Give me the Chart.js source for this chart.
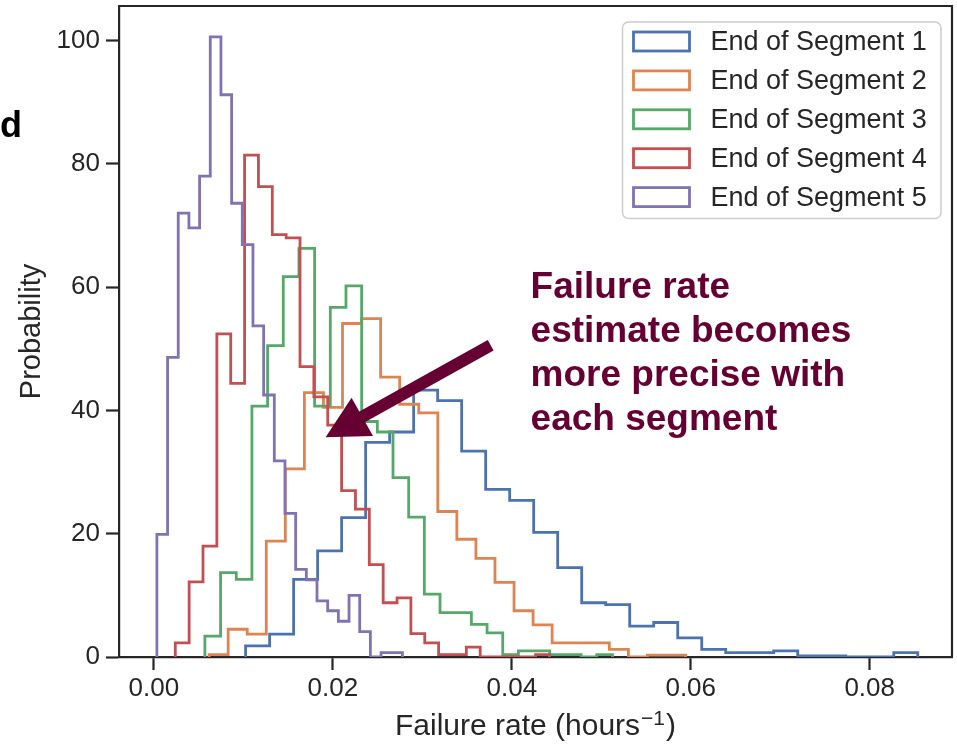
<!DOCTYPE html>
<html>
<head>
<meta charset="utf-8">
<script src="https://cdn.jsdelivr.net/npm/chart.js@4.4.1/dist/chart.umd.min.js"></script>
<style>
  html, body { margin: 0; padding: 0; background: #fff; }
  #wrap { width: 957px; height: 745px; }
</style>
</head>
<body>
<div id="wrap"><canvas id="histChart" width="957" height="745"></canvas></div>
<script>
const segmentNames = ["End of Segment 1", "End of Segment 2", "End of Segment 3", "End of Segment 4", "End of Segment 5"];
const segmentColors = ["#4c72b0", "#dd8452", "#55a868", "#c44e52", "#8172b3"];

// histogram bins: first edge and bin width (failure rate), then height per bin
const seg1Start = 0.01025, seg1Width = 0.002683;
const seg1Counts = [1.8, 3.7, 12.6, 17.2, 22.6, 34.8, 36.5, 43.3, 41.6, 33.4, 27.2, 25.4, 20.2, 14.5,
  8.8, 8.5, 5.0, 5.6, 3.1, 1.25, 0.7, 0.7, 1.0, 0.16, 0.16, 0, 0, 0.7];
const seg2Start = 0.00617, seg2Width = 0.00213;
const seg2Counts = [0.4, 4.5, 3.7, 18.8, 30.5, 42.9, 40.5, 54.1, 54.9, 45.4, 41.0, 39.6, 23.6, 19.1,
  16.0, 12.1, 7.5, 5.2, 2.3, 2.3, 2.3, 1.25, 0, 0.3, 0.3];
const seg3Start = 0.0057, seg3Width = 0.001752;
const seg3Counts = [3.4, 13.7, 12.6, 40.7, 50.5, 61.7, 66.3, 40.7, 56.7, 60.2, 38.2, 36.5, 29.1, 22.7,
  10.2, 7.2, 7.2, 5.3, 3.9, 0.4, 1.0, 1.0, 0.4, 0.4, 0, 0.4];
const seg4Start = 0.00239, seg4Width = 0.001549;
const seg4Counts = [2.3, 12.2, 18.0, 52.4, 44.4, 81.4, 76.3, 68.5, 68.0, 47.1, 42.2, 37.6, 27.0, 24.0,
  15.0, 8.8, 9.6, 3.8, 2.3, 0.4, 0.4, 1.6, 0, 0, 0, 0, 0.4];
const seg5Start = 0.000335, seg5Width = 0.001193;
const seg5Counts = [19.9, 48.6, 72.0, 69.6, 78.0, 100.6, 91.2, 73.6, 66.9, 53.7, 42.5, 31.8, 23.3, 14.2,
  12.5, 9.1, 7.5, 5.8, 10.0, 4.1, 0, 0.7, 0.7];

const xTicks = [0, 0.02, 0.04, 0.06, 0.08];
const yTicks = [0, 20, 40, 60, 80, 100];

const noteLines = ["Failure rate", "estimate becomes", "more precise with", "each segment"];
const noteAt = [0.0421, 58.3];        // first line baseline, data units
const arrowTail = [0.03764, 50.56];
const arrowHead = [0.01919, 35.64];

const FONT = '"Liberation Sans", Arial, Helvetica, sans-serif';
const INK = "#262626";
const MAROON = "#660033";

// outline of a step histogram: up at the first edge, across each bin, down at the last edge
function stepPoints(start, width, counts) {
  const pts = [{ x: start, y: 0 }];
  counts.forEach((c, i) => pts.push({ x: start + i * width, y: c }));
  pts.push({ x: start + counts.length * width, y: 0 });
  return pts;
}

const bins = [
  [seg1Start, seg1Width, seg1Counts],
  [seg2Start, seg2Width, seg2Counts],
  [seg3Start, seg3Width, seg3Counts],
  [seg4Start, seg4Width, seg4Counts],
  [seg5Start, seg5Width, seg5Counts]
];

const datasets = bins.map((b, i) => ({
  label: segmentNames[i],
  data: stepPoints(b[0], b[1], b[2]),
  borderColor: segmentColors[i],
  backgroundColor: "rgba(0,0,0,0)",
  borderWidth: 2.8,
  stepped: true,
  fill: false,
  pointRadius: 0,
  order: 5 - i
}));

const frameAndNotes = {
  id: "frameAndNotes",
  afterDraw(chart) {
    const ctx = chart.ctx;
    const area = chart.chartArea;
    const xs = chart.scales.x, ys = chart.scales.y;
    ctx.save();

    // top and right spines
    ctx.strokeStyle = INK;
    ctx.lineWidth = 2.2;
    ctx.beginPath();
    ctx.moveTo(area.left, area.top);
    ctx.lineTo(area.right, area.top);
    ctx.lineTo(area.right, area.bottom);
    ctx.stroke();

    // x axis title with a raised exponent
    const big = "30px " + FONT, small = "21px " + FONT;
    const t1 = "Failure rate (hours", t2 = "\u22121", t3 = ")";
    ctx.font = big;
    const w1 = ctx.measureText(t1).width, w3 = ctx.measureText(t3).width;
    ctx.font = small;
    const w2 = ctx.measureText(t2).width;
    let cx = (area.left + area.right) / 2 - (w1 + w2 + 2 + w3) / 2;
    ctx.fillStyle = INK;
    ctx.textAlign = "left";
    ctx.textBaseline = "alphabetic";
    ctx.font = big;
    ctx.fillText(t1, cx, 735);
    ctx.font = small;
    ctx.fillText(t2, cx + w1 + 1, 725);
    ctx.font = big;
    ctx.fillText(t3, cx + w1 + w2 + 2, 735);

    // arrow
    const tx = xs.getPixelForValue(arrowTail[0]), ty = ys.getPixelForValue(arrowTail[1]);
    const hx = xs.getPixelForValue(arrowHead[0]), hy = ys.getPixelForValue(arrowHead[1]);
    const ang = Math.atan2(hy - ty, hx - tx);
    const headLen = 42, headHalf = 22;
    const bx = hx - headLen * Math.cos(ang), by = hy - headLen * Math.sin(ang);
    ctx.strokeStyle = MAROON;
    ctx.fillStyle = MAROON;
    ctx.lineWidth = 12;
    ctx.lineCap = "butt";
    ctx.beginPath();
    ctx.moveTo(tx, ty);
    ctx.lineTo(bx + 2 * Math.cos(ang), by + 2 * Math.sin(ang));
    ctx.stroke();
    ctx.beginPath();
    ctx.moveTo(hx, hy);
    ctx.lineTo(bx - headHalf * Math.sin(ang), by + headHalf * Math.cos(ang));
    ctx.lineTo(bx + headHalf * Math.sin(ang), by - headHalf * Math.cos(ang));
    ctx.closePath();
    ctx.fill();

    // annotation text
    ctx.font = "bold 37px " + FONT;
    const nx = xs.getPixelForValue(noteAt[0]);
    const ny = ys.getPixelForValue(noteAt[1]);
    noteLines.forEach((line, i) => ctx.fillText(line, nx, ny + i * 44.3));

    // legend
    const lw = 318.5, lh = 196.5;
    const lx = area.right - 11 - lw, ly = area.top + 16;
    ctx.beginPath();
    ctx.roundRect(lx, ly, lw, lh, 6);
    ctx.fillStyle = "rgba(255,255,255,0.8)";
    ctx.fill();
    ctx.strokeStyle = "#cccccc";
    ctx.lineWidth = 1.5;
    ctx.stroke();
    ctx.font = "27px " + FONT;
    ctx.textBaseline = "middle";
    segmentNames.forEach((name, i) => {
      const cy = ly + 19.5 + i * 38.9;
      ctx.strokeStyle = segmentColors[i];
      ctx.lineWidth = 2.8;
      ctx.strokeRect(lx + 11, cy - 9.5, 56, 19);
      ctx.fillStyle = INK;
      ctx.fillText(name, lx + 88, cy + 1);
    });

    // panel letter, cut at the left edge
    ctx.font = "bold 36px " + FONT;
    ctx.fillStyle = "#000";
    ctx.textAlign = "right";
    ctx.textBaseline = "alphabetic";
    ctx.fillText("d", 22, 137);
    ctx.restore();
  }
};

new Chart(document.getElementById("histChart"), {
  type: "line",
  data: { datasets },
  options: {
    responsive: false,
    animation: false,
    devicePixelRatio: 1,
    layout: { padding: { top: 6, right: 5, left: 0, bottom: 0 } },
    plugins: { legend: { display: false }, tooltip: { enabled: false } },
    scales: {
      x: {
        type: "linear",
        min: -0.0039,
        max: 0.0892,
        afterFit: (s) => { s.height = 88; s.paddingLeft = 0; s.paddingRight = 0; },
        afterBuildTicks: (s) => { s.ticks = xTicks.map(v => ({ value: v })); },
        ticks: {
          callback: (v) => Number(v).toFixed(2),
          font: { family: FONT, size: 26 },
          color: INK,
          padding: 3,
          maxRotation: 0,
          autoSkip: false
        },
        grid: { drawOnChartArea: false, drawTicks: true, tickLength: 13, tickWidth: 2.2, tickColor: INK },
        border: { display: true, color: INK, width: 2.2 },
        title: { display: false }
      },
      y: {
        type: "linear",
        min: 0,
        max: 105.6,
        afterFit: (s) => { s.width = 119; s.paddingTop = 0; s.paddingBottom = 0; },
        afterBuildTicks: (s) => { s.ticks = yTicks.map(v => ({ value: v })); },
        ticks: {
          font: { family: FONT, size: 26 },
          color: INK,
          padding: 6
        },
        grid: { drawOnChartArea: false, drawTicks: true, tickLength: 13, tickWidth: 2.2, tickColor: INK },
        border: { display: true, color: INK, width: 2.2 },
        title: {
          display: true,
          text: "Probability",
          font: { family: FONT, size: 29 },
          color: INK,
          padding: { top: 15, bottom: 0 }
        }
      }
    }
  },
  plugins: [frameAndNotes]
});
</script>
</body>
</html>
